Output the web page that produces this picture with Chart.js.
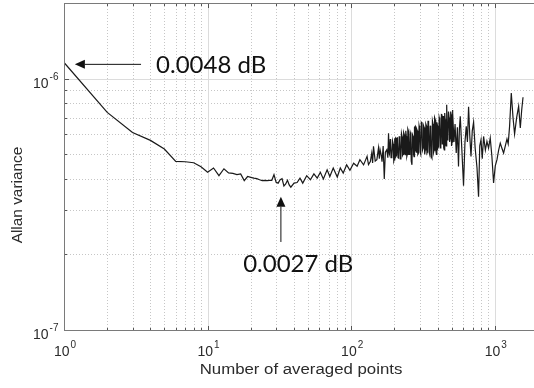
<!DOCTYPE html>
<html>
<head>
<meta charset="utf-8">
<script src="https://cdn.jsdelivr.net/npm/chart.js@4.4.1/dist/chart.umd.min.js"></script>
<style>
  html, body { margin: 0; padding: 0; background: #fff; overflow: hidden; }
  #wrap { width: 540px; height: 388px; }
</style>
</head>
<body>
<div id="wrap"><canvas id="chart-allan" width="540" height="388"></canvas></div>
<script>
// Allan variance vs. number of averaged points
const avgPoints = [
    1, 2, 3, 4, 5, 6, 7, 8, 9, 10, 11, 12, 13, 14, 15, 16, 17, 18, 19, 20,
    21, 22, 23, 24, 25, 26, 27, 28, 29, 30, 31, 32, 33, 34, 35, 36, 37,
    38, 40, 42, 44, 46, 49, 52, 55, 58, 61, 64, 68, 71, 75, 80, 84, 88, 93, 98,
    104, 110, 115, 122, 129,
    132, 136, 139, 141, 143, 147, 151, 155, 157, 159, 162, 164, 167, 170, 173, 177, 180,
    182, 184, 185, 187, 188, 190, 192, 194, 196, 198, 199, 201, 203, 205, 207, 209, 210,
    212, 214, 216, 218, 220, 222, 224, 226, 228, 230, 232, 234, 236, 238, 240, 242, 244,
    246, 248, 251, 253, 256, 258, 260, 262, 265, 267, 270, 272, 274, 276, 279, 281, 284,
    286, 289, 291, 294, 297, 300, 302, 305, 308, 311, 314, 317, 319, 322, 325, 328, 331,
    334, 337, 340, 343, 346, 349, 352, 355, 358, 361, 365, 368, 372, 375, 378, 381, 385,
    388, 392, 395, 399, 402, 406, 410, 414, 417, 421, 425, 429, 431, 434, 437, 440, 442,
    445, 448, 451, 454, 458, 461, 464, 468, 472, 476, 481, 485, 490, 493, 497, 500, 504,
    507, 511, 520, 529, 539, 549, 559, 567, 575, 590, 606, 620, 633, 645, 657, 670, 683,
    697, 712, 730, 752, 771, 786, 802, 818, 836, 860, 882, 905, 930, 955, 981, 1008, 1036,
    1064, 1092, 1120, 1152, 1184, 1216, 1240, 1268, 1285, 1303, 1340, 1374, 1420, 1466,
    1506, 1540, 1573
];
const allanVar = [
    1.16e-6, 7.34e-7, 6.11e-7, 5.68e-7, 5.25e-7, 4.69e-7, 4.67e-7, 4.63e-7, 4.46e-7, 4.24e-7,
    4.41e-7, 4.11e-7, 4.38e-7, 4.22e-7, 4.20e-7, 4.15e-7, 4.18e-7, 3.93e-7, 4.08e-7, 4.05e-7,
    4.02e-7, 4.00e-7, 3.96e-7, 3.93e-7, 3.94e-7, 3.93e-7, 3.94e-7, 3.94e-7, 4.15e-7, 3.87e-7,
    3.84e-7, 3.96e-7, 4.00e-7, 3.74e-7, 3.81e-7, 3.94e-7, 3.78e-7,
    3.70e-7, 3.84e-7, 3.86e-7, 4.02e-7, 3.84e-7, 4.11e-7, 3.96e-7, 4.18e-7, 4.02e-7, 4.24e-7,
    3.99e-7, 4.34e-7, 4.08e-7, 4.41e-7, 4.06e-7, 4.41e-7, 4.21e-7, 4.54e-7, 4.32e-7,
    4.61e-7, 4.48e-7, 4.76e-7, 4.54e-7, 4.91e-7,
    4.55e-7, 4.68e-7, 5.05e-7, 4.62e-7, 5.38e-7, 4.70e-7, 4.76e-7, 5.30e-7, 4.80e-7, 5.21e-7,
    4.95e-7, 4.67e-7, 5.40e-7, 3.99e-7, 5.10e-7, 5.21e-7, 4.85e-7,
    6.07e-7, 5.05e-7, 5.00e-7, 5.75e-7, 5.60e-7, 4.85e-7, 4.90e-7, 5.65e-7, 5.50e-7, 4.70e-7,
    4.75e-7, 5.75e-7, 5.80e-7, 4.90e-7, 4.95e-7, 5.85e-7, 5.60e-7,
    4.85e-7, 4.83e-7, 5.90e-7, 5.70e-7, 4.80e-7, 4.90e-7, 6.05e-7, 5.89e-7, 4.95e-7, 5.00e-7,
    6.10e-7, 6.00e-7, 5.05e-7, 4.98e-7, 6.20e-7, 5.90e-7, 4.90e-7,
    5.00e-7, 6.30e-7, 6.17e-7, 5.00e-7, 5.20e-7, 6.10e-7, 6.00e-7, 4.70e-7, 4.54e-7, 6.00e-7,
    5.90e-7, 5.00e-7, 4.90e-7, 6.40e-7, 6.46e-7, 5.20e-7, 5.10e-7,
    6.30e-7, 6.20e-7, 5.00e-7, 5.06e-7, 6.50e-7, 6.30e-7, 5.10e-7, 5.00e-7, 6.70e-7, 6.66e-7,
    5.20e-7, 5.30e-7, 6.50e-7, 6.40e-7, 5.00e-7, 5.21e-7, 6.60e-7,
    6.50e-7, 5.05e-7, 5.10e-7, 6.80e-7, 6.46e-7, 5.10e-7, 5.00e-7, 6.50e-7, 6.30e-7, 4.90e-7,
    4.83e-7, 6.80e-7, 6.60e-7, 5.10e-7, 5.20e-7, 7.00e-7, 6.87e-7,
    5.20e-7, 5.00e-7, 6.70e-7, 6.50e-7, 5.30e-7, 5.38e-7, 7.00e-7, 6.80e-7, 5.30e-7, 5.40e-7,
    7.20e-7, 7.19e-7, 5.50e-7, 5.60e-7, 7.10e-7, 7.00e-7, 5.30e-7,
    5.21e-7, 7.30e-7, 6.90e-7, 5.50e-7, 5.40e-7, 6.20e-7, 7.88e-7, 5.70e-7, 5.90e-7, 7.40e-7,
    7.00e-7, 5.60e-7, 5.80e-7, 7.40e-7, 7.20e-7, 5.40e-7, 5.60e-7,
    7.50e-7, 7.30e-7, 5.60e-7, 6.60e-7, 5.06e-7, 6.40e-7, 4.47e-7, 6.30e-7, 7.08e-7, 5.20e-7,
    3.75e-7, 5.60e-7, 6.46e-7, 5.60e-7, 7.73e-7, 5.90e-7, 4.90e-7,
    6.20e-7, 6.71e-7, 5.30e-7, 4.42e-7, 3.39e-7, 5.40e-7, 5.71e-7, 4.80e-7, 5.89e-7, 5.20e-7,
    5.63e-7, 5.30e-7, 5.80e-7, 4.90e-7, 3.85e-7, 4.50e-7, 4.76e-7,
    5.20e-7, 5.54e-7, 5.30e-7, 5.06e-7, 5.40e-7, 5.75e-7, 5.50e-7, 6.46e-7, 7.50e-7, 8.77e-7,
    7.00e-7, 6.02e-7, 7.00e-7, 7.76e-7,
    6.36e-7, 7.50e-7, 8.43e-7
];

// axis range and tick positions
const xRange = [1, 2000];
const yRange = [1e-7, 2e-6];
const xDecades = [1, 10, 100, 1000];
const yDecades = [1e-7, 1e-6];
const minorSteps = [2, 3, 4, 5, 6, 7, 8, 9];

// callouts: arrow tail/tip and label anchor, in data units
const callouts = [
    { text: "0.0048 dB", tail: [3.44, 1.14e-6], tip: [1.19, 1.14e-6], label: [4.38, 1.056e-6] },
    { text: "0.0027 dB", tail: [32.4, 2.24e-7], tip: [32.4, 3.39e-7], label: [17.7, 1.70e-7] },
];

const TEXT_FONT = "Liberation Sans, Arial, sans-serif";

function minorValues(decades, range) {
    const vals = [];
    decades.forEach(d => minorSteps.forEach(s => {
        const v = d * s;
        if (v <= range[1] * 1.0001) vals.push(v);
    }));
    return vals;
}

function drawPow(ctx, exp, x, y, align) {
    ctx.font = "14px " + TEXT_FONT;
    const wBase = ctx.measureText("10").width;
    ctx.font = "10px " + TEXT_FONT;
    const wExp = ctx.measureText(exp).width;
    const total = wBase + 1 + wExp;
    let left = align === "right" ? x - total : x - total / 2;
    ctx.textAlign = "left";
    ctx.textBaseline = "alphabetic";
    ctx.font = "14px " + TEXT_FONT;
    ctx.fillText("10", left, y);
    ctx.font = "10px " + TEXT_FONT;
    ctx.fillText(exp, left + wBase + 1, y - 8);
}

const axesPlugin = {
    id: "matlabAxes",
    beforeDatasetsDraw(chart) {
        const { ctx, chartArea: a, scales } = chart;
        const xs = scales.x, ys = scales.y;
        ctx.save();
        ctx.lineWidth = 1;
        // minor grid (dotted)
        ctx.strokeStyle = "#c6c6c6";
        ctx.setLineDash([1, 2]);
        minorValues(xDecades, xRange).forEach(v => {
            const px = Math.round(xs.getPixelForValue(v)) + 0.5;
            ctx.beginPath(); ctx.moveTo(px, a.top); ctx.lineTo(px, a.bottom); ctx.stroke();
        });
        minorValues(yDecades, yRange).forEach(v => {
            const py = Math.round(ys.getPixelForValue(v)) + 0.5;
            ctx.beginPath(); ctx.moveTo(a.left, py); ctx.lineTo(a.right, py); ctx.stroke();
        });
        // major grid (solid)
        ctx.setLineDash([]);
        ctx.strokeStyle = "#dcdcdc";
        xDecades.forEach(v => {
            const px = Math.round(xs.getPixelForValue(v)) + 0.5;
            ctx.beginPath(); ctx.moveTo(px, a.top); ctx.lineTo(px, a.bottom); ctx.stroke();
        });
        yDecades.forEach(v => {
            const py = Math.round(ys.getPixelForValue(v)) + 0.5;
            ctx.beginPath(); ctx.moveTo(a.left, py); ctx.lineTo(a.right, py); ctx.stroke();
        });
        ctx.restore();
    },
    afterDatasetsDraw(chart) {
        const { ctx, chartArea: a, scales } = chart;
        const xs = scales.x, ys = scales.y;
        const L = Math.round(a.left) + 0.5, R = Math.round(a.right) + 0.5;
        const T = Math.round(a.top) + 0.5, B = Math.round(a.bottom) + 0.5;
        ctx.save();

        // inward tick marks on all four sides
        ctx.strokeStyle = "#555";
        ctx.lineWidth = 1;
        const xTick = (v, len) => {
            const px = Math.round(xs.getPixelForValue(v)) + 0.5;
            ctx.beginPath();
            ctx.moveTo(px, B); ctx.lineTo(px, B - len);
            ctx.moveTo(px, T); ctx.lineTo(px, T + len);
            ctx.stroke();
        };
        const yTick = (v, len) => {
            const py = Math.round(ys.getPixelForValue(v)) + 0.5;
            ctx.beginPath();
            ctx.moveTo(L, py); ctx.lineTo(L + len, py);
            ctx.moveTo(R, py); ctx.lineTo(R - len, py);
            ctx.stroke();
        };
        minorValues(xDecades, xRange).forEach(v => xTick(v, 2.5));
        xDecades.forEach(v => xTick(v, 4.5));
        minorValues(yDecades, yRange).forEach(v => yTick(v, 2.5));
        yDecades.forEach(v => yTick(v, 4.5));

        // frame
        ctx.strokeStyle = "#7a7a7a";
        ctx.lineWidth = 1;
        ctx.strokeRect(L, T, R - L, B - T);

        // tick labels
        ctx.fillStyle = "#2b2b2b";
        xDecades.forEach(v => {
            drawPow(ctx, String(Math.round(Math.log10(v))), xs.getPixelForValue(v) + 1, B + 25, "center");
        });
        yDecades.forEach(v => {
            drawPow(ctx, String(Math.round(Math.log10(v))), L - 6, ys.getPixelForValue(v) + 9, "right");
        });

        // axis titles
        ctx.font = "14px " + TEXT_FONT;
        ctx.textAlign = "center";
        ctx.textBaseline = "alphabetic";
        ctx.save();
        ctx.translate((a.left + a.right) / 2, 374);
        ctx.scale(1.2, 1);
        ctx.fillText("Number of averaged points", 0, 0);
        ctx.restore();
        ctx.save();
        ctx.translate(22, 195);
        ctx.rotate(-Math.PI / 2);
        ctx.scale(1.1, 1);
        ctx.fillText("Allan variance", 0, 0);
        ctx.restore();

        // callout arrows and labels
        ctx.strokeStyle = "#111";
        ctx.fillStyle = "#111";
        ctx.lineWidth = 1;
        callouts.forEach(c => {
            const tx = xs.getPixelForValue(c.tail[0]), ty = ys.getPixelForValue(c.tail[1]);
            const hx = xs.getPixelForValue(c.tip[0]), hy = ys.getPixelForValue(c.tip[1]);
            const ang = Math.atan2(hy - ty, hx - tx);
            const head = 10, half = 4.5;
            const bx = hx - head * Math.cos(ang), by = hy - head * Math.sin(ang);
            ctx.beginPath(); ctx.moveTo(tx, ty); ctx.lineTo(bx, by); ctx.stroke();
            ctx.beginPath();
            ctx.moveTo(hx, hy);
            ctx.lineTo(bx + half * Math.sin(ang), by - half * Math.cos(ang));
            ctx.lineTo(bx - half * Math.sin(ang), by + half * Math.cos(ang));
            ctx.closePath();
            ctx.fill();
            ctx.font = "24px Lato, 'Open Sans', sans-serif";
            ctx.textAlign = "left";
            ctx.fillText(c.text, xs.getPixelForValue(c.label[0]), ys.getPixelForValue(c.label[1]));
        });
        ctx.restore();
    },
};

const points = avgPoints.map((n, i) => ({ x: n, y: allanVar[i] }));

new Chart(document.getElementById("chart-allan"), {
    type: "line",
    data: {
        datasets: [
            {
                label: "Allan variance",
                data: points,
                borderColor: "#1a1a1a",
                borderWidth: 1.2,
                pointRadius: 0,
                tension: 0,
                fill: false,
            },
        ],
    },
    options: {
        responsive: false,
        animation: false,
        parsing: false,
        layout: { padding: { left: 64, top: 3, right: 2, bottom: 58 } },
        scales: {
            x: { type: "logarithmic", display: false, min: xRange[0], max: xRange[1] },
            y: { type: "logarithmic", display: false, min: yRange[0], max: yRange[1] },
        },
        plugins: {
            legend: { display: false },
            tooltip: { enabled: false },
        },
    },
    plugins: [axesPlugin],
});
</script>
</body>
</html>
